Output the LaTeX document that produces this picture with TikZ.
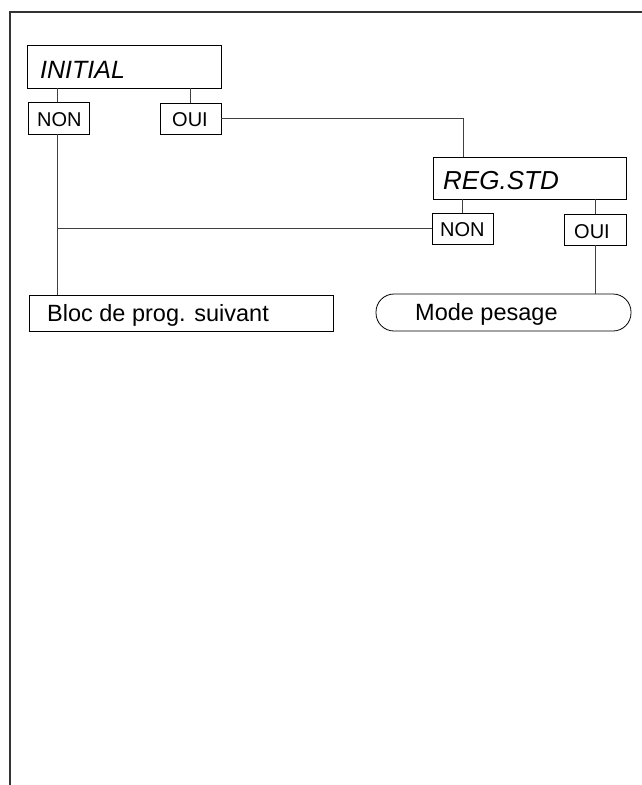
\documentclass[tikz,border=0pt]{standalone}
\usepackage{fontspec}
\setmainfont{Liberation Sans}
\begin{document}
\begin{tikzpicture}[x=1pt,y=-1pt,
  box/.style={draw=black,line width=0.8pt,anchor=north west,inner sep=0pt,outer sep=0pt},
  txt/.style={anchor=base west,inner sep=0pt},
  conn/.style={draw=black!75,line width=0.9pt},
  frame/.style={draw=black!80,line width=1.6pt}]
\useasboundingbox (0,0) rectangle (642,785);
% frame
\coordinate (fb) at (10,785);
\coordinate (ft) at (10,12);
\coordinate (fr) at (642,12);
\draw[frame] (fb) -- (ft) -- (fr);
% boxes
\node[box,minimum width=194pt,minimum height=43pt] (init) at (27,45) {};
\node[box,minimum width=61pt,minimum height=32pt] (nonA) at (28,102) {};
\node[box,minimum width=61pt,minimum height=31pt] (ouiA) at (160,103) {};
\node[box,minimum width=193pt,minimum height=42pt] (reg) at (433,157) {};
\node[box,minimum width=61pt,minimum height=31pt] (nonB) at (432,213) {};
\node[box,minimum width=62pt,minimum height=31pt] (ouiB) at (564,214) {};
\node[box,minimum width=304pt,minimum height=36pt] (bloc) at (29,295) {};
\node[box,minimum width=255pt,minimum height=37pt,rounded corners=18pt] (mode) at (376,294) {};
% texts
\node[txt,font=\fontsize{25}{30}\selectfont\itshape] (initT) at (40,78) {INITIAL};
\node[txt,font=\fontsize{20}{24}\selectfont] (nonAT) at (37,126) {NON};
\node[txt,font=\fontsize{20}{24}\selectfont] (ouiAT) at (172,126) {OUI};
\node[txt,font=\fontsize{26}{31}\selectfont\itshape] (regT) at (443,189) {REG.STD};
\node[txt,font=\fontsize{20}{24}\selectfont] (nonBT) at (440,236) {NON};
\node[txt,font=\fontsize{20}{24}\selectfont] (ouiBT) at (574,238) {OUI};
\node[txt,font=\fontsize{23.5}{28}\selectfont] (blocT) at (47,321) {Bloc de prog. suivant};
\node[txt,font=\fontsize{23.5}{28}\selectfont] (modeT) at (415,320) {Mode pesage};
% connectors
\coordinate (k1) at (463,118);
\coordinate (j1) at (57,228);
\draw[conn] (init.south -| j1) -- (nonA.north -| j1);
\draw[conn] (init.south -| ouiA.north) -- (ouiA.north);
\draw[conn] (ouiA.east) -- (ouiA.east -| k1) -- (reg.north -| k1);
\draw[conn] (reg.south -| nonB.north) -- (nonB.north);
\draw[conn] (reg.south -| ouiB.north) -- (ouiB.north);
\draw[conn] (nonA.south -| j1) -- (bloc.north -| j1);
\draw[conn] (nonB.west) -- (nonB.west -| j1);
\draw[conn] (ouiB.south) -- (mode.north -| ouiB.south);
\end{tikzpicture}
\end{document}
